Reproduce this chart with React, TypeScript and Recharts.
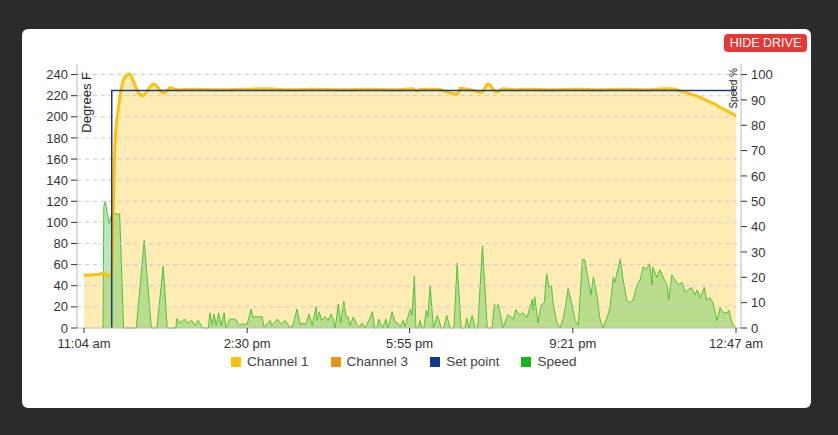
import React from "react"
import { Area, ComposedChart, Line, ReferenceLine, XAxis, YAxis } from "recharts"

// minutes since 11:04 am
const timeTicks = [0, 206, 411, 617, 823]
const timeLabels = ["11:04 am", "2:30 pm", "5:55 pm", "9:21 pm", "12:47 am"]

const tempTicks = [0, 20, 40, 60, 80, 100, 120, 140, 160, 180, 200, 220, 240]
const speedTicks = [0, 10, 20, 30, 40, 50, 60, 70, 80, 90, 100]

// Channel 1 (°F)
const ch1Times = [
  0, 12, 20, 24, 28, 31, 34, 35, 37, 39, 44, 49, 53, 57, 60, 64, 68, 74, 79, 84, 88, 93, 97, 101, 105, 109, 113,
  117, 140, 170, 200, 230, 260, 290, 330, 360, 395, 415, 420, 425, 445, 471, 475, 491, 502, 510, 521, 529, 545,
  560, 590, 620, 650, 680, 710, 733, 742, 753, 765, 778, 786, 795, 803, 813, 823,
]
const ch1Values = [
  50, 50.5, 51, 52, 50.5, 49.5, 51, 52, 110, 173, 211, 233, 239, 240.5, 238, 231, 224, 220, 223.5, 229, 231, 228,
  224, 222.5, 225, 227.5, 226.5, 225.5, 226, 225.5, 226, 226.5, 225.5, 226, 225.5, 226, 225.5, 226.5, 224.5, 226,
  226, 221.5, 227, 225, 223, 231, 223.5, 226.5, 225.5, 226, 225.5, 226, 225.5, 226, 225.5, 226.5, 226.5, 224.5,
  221.7, 218.5, 215.4, 212.5, 209, 205, 201,
]

// Set point (°F)
const setTimes = [35, 35, 823]
const setValues = [0, 225, 225]

// Speed (%)
const speedTimes = [
  24, 25, 27, 29, 32, 34, 35, 45, 50, 66, 76, 85, 92, 100, 105, 116, 117, 121, 127, 131, 136, 140, 144, 148, 150,
  157, 159, 162, 164, 167, 170, 173, 177, 179, 184, 191, 196, 199, 206, 211, 213, 220, 225, 227, 231, 235, 237, 244,
  249, 254, 259, 263, 269, 273, 275, 280, 284, 288, 293, 294, 297, 300, 304, 308, 312, 314, 317, 321, 324, 328, 331,
  333, 336, 340, 345, 348, 351, 355, 357, 361, 364, 367, 370, 372, 377, 381, 384, 389, 393, 396, 399, 403, 405, 412,
  414, 417, 419, 422, 424, 427, 429, 432, 434, 437, 441, 446, 451, 454, 458, 462, 467, 471, 476, 481, 483, 486, 490,
  494, 497, 503, 509, 515, 518, 520, 523, 529, 535, 542, 545, 550, 554, 559, 566, 567, 569, 573, 577, 581, 584, 587,
  590, 592, 597, 601, 605, 608, 611, 616, 620, 624, 629, 632, 636, 640, 643, 648, 651, 655, 660, 664, 668, 670, 673,
  677, 680, 685, 689, 693, 698, 702, 706, 709, 714, 717, 718, 723, 727, 731, 736, 738, 742, 746, 750, 755, 759, 762,
  767, 771, 774, 778, 783, 786, 790, 794, 799, 803, 807, 812, 814, 818, 820, 823,
]
const speedValues = [
  0, 48, 50, 46, 41, 44, 45, 45, 0, 0, 34.6, 0, 0, 24.5, 0, 0, 3.7, 2, 3.5, 2, 3, 1, 3, 1, 0, 0, 6, 1, 5.5, 1, 6, 1,
  6, 0, 3.5, 3.5, 1, 1.6, 1.5, 7.5, 4.4, 4.4, 4.4, 0.5, 1.5, 3, 1, 3.5, 1.5, 3, 0.5, 0.5, 7.5, 1, 2, 1.5, 5.5, 1, 8.4,
  3, 6.4, 3, 4.4, 3, 5.5, 4, 0, 9.4, 2, 10.6, 4, 4.5, 1, 4.4, 1, 0.5, 2, 0, 1.5, 4, 6.4, 0, 0, 3.5, 0, 3.5, 0, 6.4,
  2, 2, 0.5, 3, 0.5, 7.5, 5, 20.4, 0, 0, 3, 0, 0, 7, 4.5, 16.5, 0, 5, 0, 0, 5, 0, 0, 25.6, 0, 0, 4, 0, 5, 0, 0, 32.5,
  0, 0, 9.3, 8, 9.3, 0, 5.2, 3.5, 7.4, 5, 6, 4, 11.4, 7, 12.3, 2, 9, 10, 21.4, 16, 17, 10, 2, 0, 4, 9, 15.6, 9, 3, 1,
  27, 27, 20, 13, 20.2, 12, 4, 0, 4, 8, 20, 18, 22, 27.3, 20, 11, 10, 11, 17, 19, 24.2, 23, 25.3, 17, 24, 20, 23, 20,
  17, 11, 21, 19, 17, 18, 14, 15, 16, 13, 15, 12, 16, 11, 12, 10, 3, 8, 6, 6, 7, 2, 1, 0,
]

const ch1Data = ch1Times.map((t, i) => ({ t, v: ch1Values[i] }))
const setData = setTimes.map((t, i) => ({ t, v: setValues[i] }))
const speedData = speedTimes.map((t, i) => ({ t, v: speedValues[i] }))

const legendItems = [
  { name: "Channel 1", color: "#ffc107" },
  { name: "Channel 3", color: "#e8961a" },
  { name: "Set point", color: "#0f3b8f" },
  { name: "Speed", color: "#14b514" },
]

const tickStyle = { fontSize: 13, fill: "#333" }

const DegreesLabel = (props: any) => {
  const { viewBox } = props
  const x = viewBox.x + viewBox.width + 11
  const y = viewBox.y + 8
  return (
    <text x={x} y={y} transform={`rotate(-90 ${x} ${y})`} textAnchor="end" dominantBaseline="middle" fontSize={13} fill="#222">
      Degrees F
    </text>
  )
}

const SpeedLabel = (props: any) => {
  const { viewBox } = props
  const x = viewBox.x - 7
  const y = viewBox.y + 4
  return (
    <text x={x} y={y} transform={`rotate(-90 ${x} ${y})`} textAnchor="end" dominantBaseline="middle" fontSize={10} fill="#222">
      Speed %
    </text>
  )
}

export default function App() {
  return (
    <div
      style={{
        position: "fixed",
        left: 0,
        top: 0,
        width: 838,
        height: 435,
        background: "#2b2b2b",
        fontFamily: "'Liberation Sans', Arial, sans-serif",
      }}
    >
      <div
        style={{ position: "absolute", left: 22, top: 29, width: 789, height: 379, background: "#fff", borderRadius: 6 }}
      />
      <div
        style={{
          position: "absolute",
          left: 724,
          top: 34,
          width: 83,
          height: 18,
          background: "#e53935",
          borderRadius: 4,
          color: "#fff",
          fontSize: 12.5,
          lineHeight: "18px",
          textAlign: "center",
        }}
      >
        HIDE DRIVE
      </div>
      <div style={{ position: "absolute", left: 0, top: 0 }}>
        <ComposedChart width={838} height={380} margin={{ top: 64, left: 30, right: 47, bottom: 22 }}>
          <XAxis
            dataKey="t"
            type="number"
            domain={[0, 823]}
            ticks={timeTicks}
            tickFormatter={(v) => timeLabels[timeTicks.indexOf(v)]}
            padding={{ left: 7, right: 5 }}
            height={30}
            tick={tickStyle}
            tickSize={5}
            tickMargin={6}
            axisLine={{ stroke: "#bbb" }}
            tickLine={{ stroke: "#333" }}
          />
          <YAxis
            yAxisId="left"
            domain={[0, 250]}
            ticks={tempTicks}
            width={47}
            tick={tickStyle}
            tickSize={6}
            tickMargin={3}
            axisLine={{ stroke: "#bbb" }}
            tickLine={{ stroke: "#333" }}
            label={<DegreesLabel />}
          />
          <YAxis
            yAxisId="right"
            orientation="right"
            domain={[0, 250 / 2.4]}
            ticks={speedTicks}
            width={50}
            tick={tickStyle}
            tickSize={6}
            tickMargin={4}
            axisLine={{ stroke: "#bbb" }}
            tickLine={{ stroke: "#333" }}
            label={<SpeedLabel />}
          />
          {tempTicks
            .filter((v) => v > 0)
            .map((v) => (
              <ReferenceLine key={v} yAxisId="left" y={v} stroke="#c9c9c9" strokeDasharray="4 4" />
            ))}
          <Area
            yAxisId="left"
            data={ch1Data}
            dataKey="v"
            type="monotone"
            stroke="none"
            fill="#ffc107"
            fillOpacity={0.3}
            isAnimationActive={false}
          />
          <Area
            yAxisId="right"
            data={speedData}
            dataKey="v"
            type="linear"
            stroke="#4fc23a"
            strokeWidth={1}
            fill="rgb(80,200,80)"
            fillOpacity={0.4}
            isAnimationActive={false}
          />
          <Line
            yAxisId="left"
            data={ch1Data}
            dataKey="v"
            type="monotone"
            stroke="#ffc107"
            strokeWidth={3}
            dot={false}
            isAnimationActive={false}
          />
          <Line
            yAxisId="left"
            data={setData}
            dataKey="v"
            type="linear"
            stroke="#1a3a80"
            strokeWidth={1.5}
            dot={false}
            isAnimationActive={false}
          />
        </ComposedChart>
      </div>
      <div
        style={{
          position: "absolute",
          left: 231,
          top: 354,
          display: "flex",
          alignItems: "center",
          gap: 22,
          fontSize: 13.5,
          color: "#444",
        }}
      >
        {legendItems.map((item) => (
          <div key={item.name} style={{ display: "flex", alignItems: "center" }}>
            <span style={{ width: 10, height: 10, background: item.color, marginRight: 6, display: "inline-block" }} />
            <span>{item.name}</span>
          </div>
        ))}
      </div>
    </div>
  )
}
